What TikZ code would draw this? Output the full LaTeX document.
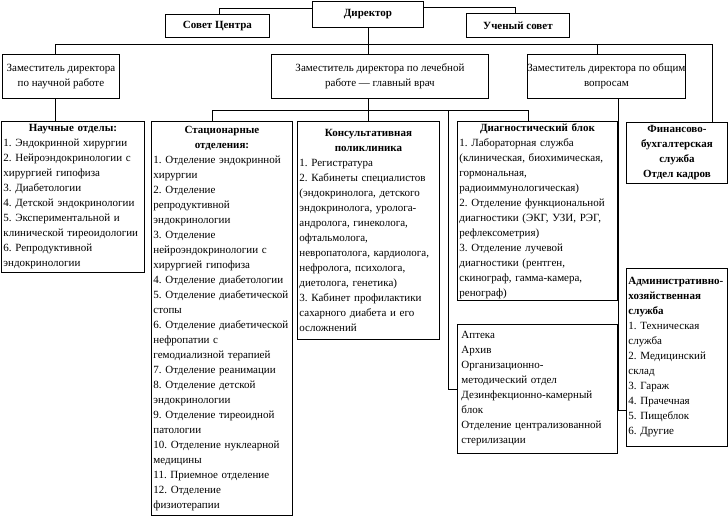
\documentclass[tikz,border=0pt]{standalone}
\usepackage{fontspec}
\setmainfont{Liberation Serif}
\usetikzlibrary{positioning, calc}
\frenchspacing

\begin{document}
\begin{tikzpicture}[
    x=1pt, y=-1pt,
    box/.style={draw, line width=0.9pt, anchor=north west, inner sep=0pt,
                font=\fontsize{11}{15}\selectfont},
    head/.style={box, align=center, font=\fontsize{11}{15}\selectfont\bfseries},
    dep/.style={box, align=center, minimum height=44pt},
    lst/.style={box, align=left, inner xsep=2pt},
    wire/.style={line width=0.9pt}
  ]
    \useasboundingbox (0,0) rectangle (728,517);

    %% Top level ──────────────────────────────
    \node[head, minimum width=111pt, minimum height=26pt] (dir) at (312,1) {Директор};
    \node[head, minimum width=104pt, minimum height=23pt] (sovet) at (165,14) {Совет Центра};
    \node[head, minimum width=103pt, minimum height=24pt] (council) at (466,13) {Ученый совет};

    \draw[wire] ([yshift=6pt]dir.west) -| ([xshift=2pt]sovet.north);
    \draw[wire] ([yshift=7pt]dir.east) -| ([xshift=-3pt]council.north);

    %% Deputies ───────────────────────────────
    \node[dep, minimum width=117pt] (scidep) at (2,54)
          {Заместитель директора\\по научной работе};
    \node[dep, minimum width=217pt] (meddep) at (271,54)
          {Заместитель директора по лечебной\\работе — главный врач};
    \node[dep, minimum width=125pt] (gendep) at (527,54)
          {Заместитель директора по общим\\вопросам};

    \coordinate (b1) at (55,44);
    \coordinate (b2) at (597,44);
    \coordinate (b3) at (712,44);
    \draw[wire] (b1) -- (b3);
    \draw[wire] (dir.south) -- (dir.south |- meddep.north);
    \draw[wire] (b1) -- (b1 |- scidep.north);
    \draw[wire] (b2) -- (b2 |- gendep.north);

    %% Science ────────────────────────────────
    \node[lst, text width=139pt, minimum height=151pt] (sci) at (1,121)
          {{\centering\bfseries Научные отделы:\par}
           1. Эндокринной хирургии\\
           2. Нейроэндокринологии с\\
           хирургией гипофиза\\
           3. Диабетологии\\
           4. Детской эндокринологии\\
           5. Экспериментальной и\\
           клинической тиреоидологии\\
           6. Репродуктивной\\
           эндокринологии};
    \draw[wire] (b1 |- scidep.south) -- (b1 |- sci.north);

    %% Medical ────────────────────────────────
    \node[lst, text width=137pt, minimum height=394pt] (stat) at (151,121)
          {{\centering\bfseries Стационарные\\отделения:\par}
           1. Отделение эндокринной\\
           хирургии\\
           2. Отделение\\
           репродуктивной\\
           эндокринологии\\
           3. Отделение\\
           нейроэндокринологии с\\
           хирургией гипофиза\\
           4. Отделение диабетологии\\
           5. Отделение диабетической\\
           стопы\\
           6. Отделение диабетической\\
           нефропатии с\\
           гемодиализной терапией\\
           7. Отделение реанимации\\
           8. Отделение детской\\
           эндокринологии\\
           9. Отделение тиреоидной\\
           патологии\\
           10. Отделение нуклеарной\\
           медицины\\
           11. Приемное отделение\\
           12. Отделение\\
           физиотерапии};
    \node[lst, text width=138pt, minimum height=218pt] (cons) at (297,121)
          {{\centering\bfseries Консультативная\\поликлиника\par}
           1. Регистратура\\
           2. Кабинеты специалистов\\
           (эндокринолога, детского\\
           эндокринолога, уролога-\\
           андролога, гинеколога,\\
           офтальмолога,\\
           невропатолога, кардиолога,\\
           нефролога, психолога,\\
           диетолога, генетика)\\
           3. Кабинет профилактики\\
           сахарного диабета и его\\
           осложнений};
    \node[lst, text width=156pt, minimum height=179pt] (diag) at (457,121)
          {{\centering\bfseries Диагностический блок\par}
           1. Лабораторная служба\\
           (клиническая, биохимическая,\\
           гормональная,\\
           радиоиммунологическая)\\
           2. Отделение функциональной\\
           диагностики (ЭКГ, УЗИ, РЭГ,\\
           рефлексометрия)\\
           3. Отделение лучевой\\
           диагностики (рентген,\\
           скинограф, гамма-камера,\\
           ренограф)};
    \node[lst, inner xsep=4pt, text width=152pt, minimum height=129pt] (apt) at (457,324)
          {Аптека\\
           Архив\\
           Организационно-\\
           методический отдел\\
           Дезинфекционно-камерный\\
           блок\\
           Отделение централизованной\\
           стерилизации};

    \coordinate (m1) at (212,110);
    \coordinate (m2) at (448,110);
    \coordinate (m3) at (528,110);
    \draw[wire] (m1) -- (m3);
    \draw[wire] (dir.south |- meddep.south) -- (dir.south |- cons.north);
    \draw[wire] (m1) -- (m1 |- stat.north);
    \draw[wire] (m3) -- (m3 |- diag.north);
    \draw[wire] (m2) |- (apt.west);

    %% General ────────────────────────────────
    \node[head, minimum width=101pt, minimum height=61pt] (fin) at (626,122)
          {Финансово-\\бухгалтерская\\служба\\Отдел кадров};
    \node[lst, text width=97pt, minimum height=178pt] (adm) at (626,268)
          {\textbf{Административно-}\\
           \textbf{хозяйственная}\\
           \textbf{служба}\\
           1. Техническая\\
           служба\\
           2. Медицинский\\
           склад\\
           3. Гараж\\
           4. Прачечная\\
           5. Пищеблок\\
           6. Другие};

    \coordinate (g1) at (618,98);
    \draw[wire] (b3) -- (b3 |- fin.north);
    \draw[wire] (g1) |- ([yshift=-53pt]adm.west);

\end{tikzpicture}
\end{document}
